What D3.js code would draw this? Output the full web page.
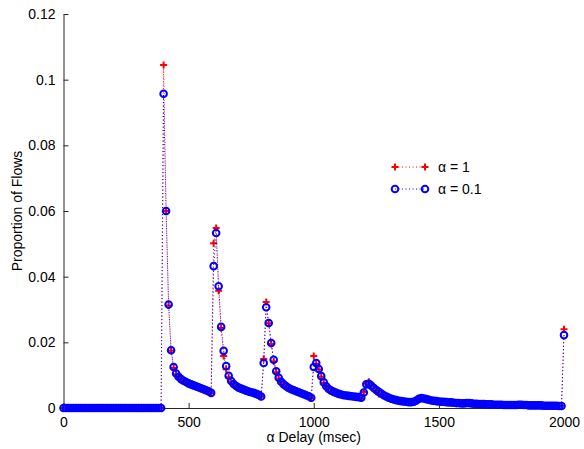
<!DOCTYPE html>
<html>
<head>
<meta charset="utf-8">
<script src="https://cdn.jsdelivr.net/npm/d3@7"></script>
<style>
  html, body { margin: 0; padding: 0; background: #fff; }
  svg { display: block; font-family: "Liberation Sans", Arial, sans-serif; }
</style>
</head>
<body>
<svg id="chart" width="584" height="449"></svg>
<script>
// Delay sampling grid (msec), every 10 ms from 0 to 2000
const delays = d3.range(0, 2001, 10);

// alpha = 1 series (red +)
const alpha1 = [
  0,0,0,0,0,0,0,0,0,0, 0,0,0,0,0,0,0,0,0,0,
  0,0,0,0,0,0,0,0,0,0, 0,0,0,0,0,0,0,0,0,0,
  0.1045,0.0600,0.0312,0.0174,0.0122,0.0103,0.0093,0.0086,0.0081,0.0077,
  0.0073,0.0070,0.0067,0.0064,0.0061,0.0058,0.0055,0.0052,0.0049,0.0045,
  0.0502,0.0548,0.0357,0.0244,0.0158,0.0118,0.0094,0.0080,0.0071,0.0066,
  0.0061,0.0058,0.0055,0.0052,0.0049,0.0047,0.0045,0.0042,0.0039,0.0034,
  0.0149,0.0323,0.0258,0.0195,0.0142,0.0109,0.0090,0.0078,0.0071,0.0065,
  0.0060,0.0056,0.0053,0.0050,0.0047,0.0044,0.0041,0.0038,0.0035,0.0030,
  0.0158,0.0134,0.0117,0.0095,0.0076,0.0064,0.0057,0.0052,0.0048,0.0045,
  0.0042,0.0040,0.0038,0.0037,0.0036,0.0035,0.0034,0.0033,0.0032,0.0030,
  0.0049,0.0075,0.0080,0.0066,0.0058,0.0052,0.0043,0.0042,0.0038,0.0034,
  0.0030,0.0027,0.0025,0.0023,0.0022,0.0021,0.0020,0.0019,0.0018,0.0018,
  0.0019,0.0022,0.0027,0.0029,0.0029,0.0027,0.0025,0.0023,0.0022,0.0021,
  0.0020,0.0019,0.0018,0.0018,0.0017,0.0016,0.0016,0.0015,0.0015,0.0014,
  0.0014,0.0015,0.0015,0.0014,0.0013,0.0013,0.0012,0.0012,0.0011,0.0011,
  0.0011,0.0010,0.0010,0.0010,0.0010,0.0009,0.0009,0.0009,0.0009,0.0009,
  0.0009,0.0009,0.0010,0.0009,0.0009,0.0009,0.0008,0.0008,0.0008,0.0008,
  0.0008,0.0007,0.0007,0.0007,0.0007,0.0007,0.0007,0.0006,0.0006,0.0006,
  0.0240
];

// alpha = 0.1 series (blue o)
const alpha01 = [
  0,0,0,0,0,0,0,0,0,0, 0,0,0,0,0,0,0,0,0,0,
  0,0,0,0,0,0,0,0,0,0, 0,0,0,0,0,0,0,0,0,0,
  0.0957,0.0600,0.0315,0.0176,0.0125,0.0105,0.0095,0.0088,0.0083,0.0079,
  0.0075,0.0072,0.0069,0.0066,0.0063,0.0060,0.0057,0.0054,0.0051,0.0046,
  0.0432,0.0533,0.0371,0.0247,0.0174,0.0128,0.0098,0.0082,0.0073,0.0067,
  0.0062,0.0059,0.0056,0.0053,0.0050,0.0048,0.0046,0.0043,0.0040,0.0035,
  0.0137,0.0307,0.0259,0.0198,0.0147,0.0112,0.0092,0.0080,0.0072,0.0066,
  0.0061,0.0057,0.0054,0.0051,0.0048,0.0045,0.0042,0.0039,0.0036,0.0031,
  0.0125,0.0137,0.0119,0.0097,0.0078,0.0066,0.0058,0.0053,0.0049,0.0046,
  0.0043,0.0041,0.0039,0.0038,0.0037,0.0036,0.0035,0.0034,0.0033,0.0031,
  0.0047,0.0072,0.0074,0.0068,0.0061,0.0055,0.0049,0.0044,0.0039,0.0035,
  0.0031,0.0028,0.0026,0.0024,0.0022,0.0021,0.0020,0.0019,0.0018,0.0018,
  0.0019,0.0023,0.0028,0.0030,0.0029,0.0027,0.0025,0.0023,0.0022,0.0021,
  0.0020,0.0019,0.0019,0.0018,0.0017,0.0017,0.0016,0.0015,0.0015,0.0014,
  0.0014,0.0015,0.0015,0.0014,0.0013,0.0013,0.0012,0.0012,0.0012,0.0011,
  0.0011,0.0011,0.0010,0.0010,0.0010,0.0010,0.0009,0.0009,0.0009,0.0009,
  0.0009,0.0009,0.0010,0.0010,0.0009,0.0009,0.0008,0.0008,0.0008,0.0008,
  0.0008,0.0008,0.0007,0.0007,0.0007,0.0007,0.0007,0.0007,0.0006,0.0006,
  0.0222
];

const xTicks = [0, 500, 1000, 1500, 2000];
const yTicks = [0, 0.02, 0.04, 0.06, 0.08, 0.1, 0.12];
const seriesNames = ["\u03b1 = 1", "\u03b1 = 0.1"];
const xLabel = "\u03b1 Delay (msec)";
const yLabel = "Proportion of Flows";

(function () {
const svg = d3.select("#chart");
const mLeft = 63.5, mRight = 564, mTop = 14, mBottom = 408;

const x = d3.scaleLinear().domain([0, 2000]).range([mLeft, mRight]);
const y = d3.scaleLinear().domain([0, 0.12]).range([mBottom, mTop]);

// Axes
const axisColor = "#262626";
const xAxis = svg.append("g")
  .attr("transform", `translate(0,${mBottom})`)
  .call(d3.axisBottom(x).tickValues(xTicks).tickFormat(d3.format("d")).tickSizeInner(-5).tickSizeOuter(0).tickPadding(9));
const yAxis = svg.append("g")
  .attr("transform", `translate(${mLeft},0)`)
  .call(d3.axisLeft(y).tickValues(yTicks).tickFormat(d => d === 0 ? "0" : String(d)).tickSizeInner(-5).tickSizeOuter(0).tickPadding(8));
[xAxis, yAxis].forEach(g => {
  g.select(".domain").attr("stroke", axisColor).attr("stroke-width", 1);
  g.selectAll(".tick line").attr("stroke", axisColor);
  g.selectAll(".tick text").attr("fill", "#000").style("font-size", "14px").style("font-family", "Liberation Sans, Arial, sans-serif");
});

// Axis labels
svg.append("text")
  .attr("x", (mLeft + mRight) / 2).attr("y", 442)
  .attr("text-anchor", "middle").style("font-size", "14px").text(xLabel);
svg.append("text")
  .attr("transform", `translate(22,${(mTop + mBottom) / 2}) rotate(-90)`)
  .attr("text-anchor", "middle").style("font-size", "14px").text(yLabel);

const line = d3.line().x((d, i) => x(delays[i])).y(d => y(d));
const plus = (g, cx, cy, col) => {
  g.append("path")
    .attr("d", `M${cx - 3.5},${cy}H${cx + 3.5}M${cx},${cy - 3.5}V${cy + 3.5}`)
    .attr("stroke", col).attr("stroke-width", 2).attr("fill", "none");
};
const circ = (g, cx, cy, col) => {
  g.append("circle").attr("cx", cx).attr("cy", cy).attr("r", 3.3)
    .attr("stroke", col).attr("stroke-width", 2).attr("fill", "none");
};

const red = "#ff0000", blue = "#0000ff";

// Series alpha = 1
const g1 = svg.append("g");
g1.append("path").datum(alpha1).attr("d", line)
  .attr("fill", "none").attr("stroke", red).attr("stroke-width", 1).attr("stroke-dasharray", "1,2.5");
alpha1.forEach((v, i) => plus(g1, x(delays[i]), y(v), red));

// Series alpha = 0.1
const g2 = svg.append("g");
g2.append("path").datum(alpha01).attr("d", line)
  .attr("fill", "none").attr("stroke", blue).attr("stroke-width", 1).attr("stroke-dasharray", "1,2.5");
alpha01.forEach((v, i) => circ(g2, x(delays[i]), y(v), blue));

// Legend
const lg = svg.append("g");
const legendRows = [
  { name: seriesNames[0], col: red, mark: plus, y: 167 },
  { name: seriesNames[1], col: blue, mark: circ, y: 189 }
];
legendRows.forEach(r => {
  lg.append("line").attr("x1", 395).attr("x2", 425).attr("y1", r.y).attr("y2", r.y)
    .attr("stroke", r.col).attr("stroke-width", 1).attr("stroke-dasharray", "1,2.5");
  r.mark(lg, 395, r.y, r.col);
  r.mark(lg, 425, r.y, r.col);
  lg.append("text").attr("x", 438).attr("y", r.y + 5).style("font-size", "14px").text(r.name);
});
})();
</script>
</body>
</html>
